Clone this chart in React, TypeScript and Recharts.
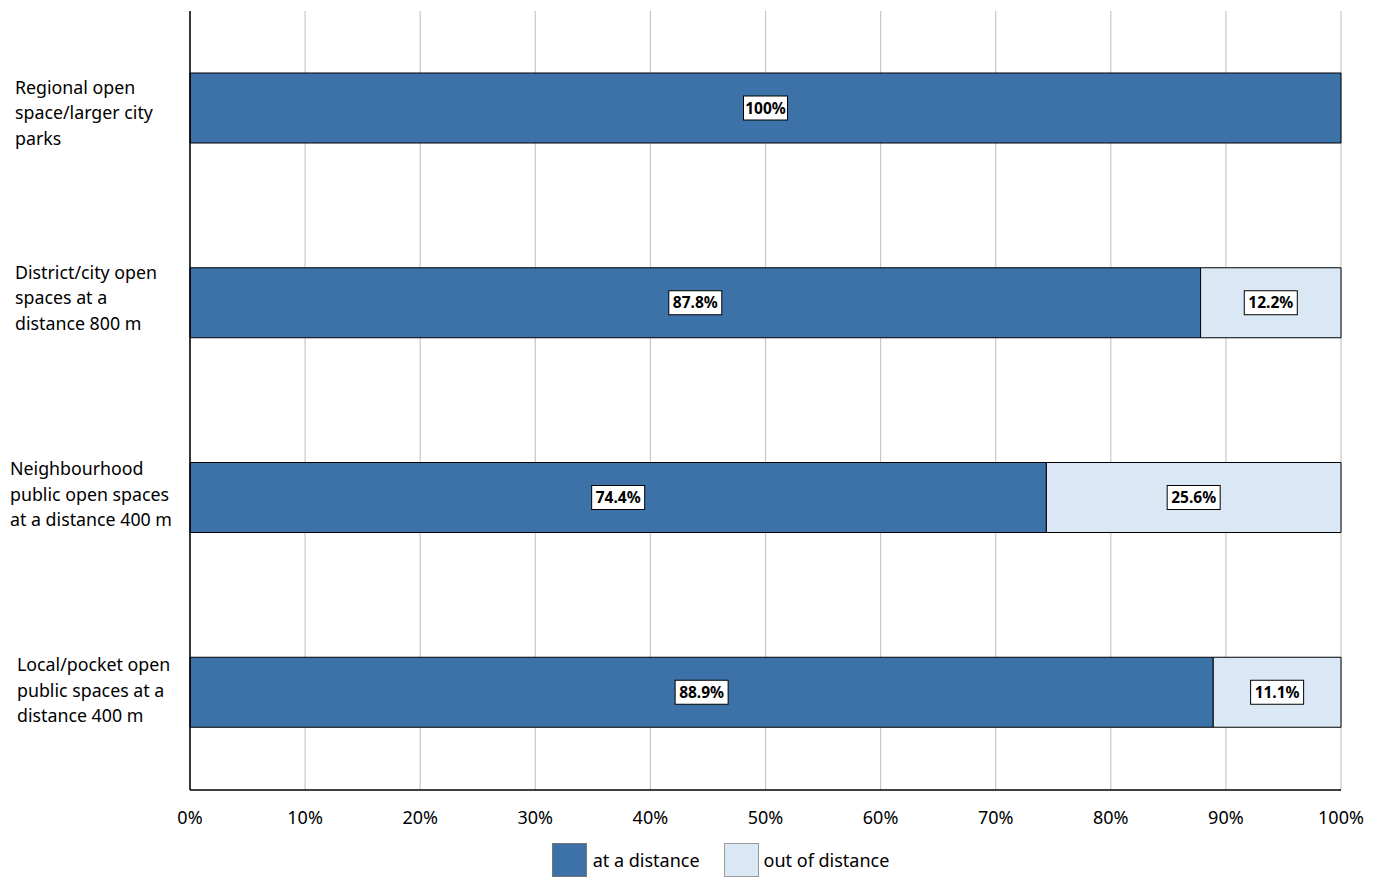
import React from 'react';
import { BarChart, Bar, XAxis, YAxis, CartesianGrid, LabelList, Legend } from 'recharts';

const categories = [
  'Regional open space/larger city parks',
  'District/city open spaces at a distance 800 m',
  'Neighbourhood public open spaces at a distance 400 m',
  'Local/pocket open public spaces at a distance 400 m',
];
const categoryLines = [
  ['Regional open', 'space/larger city', 'parks'],
  ['District/city open', 'spaces at a', 'distance 800 m'],
  ['Neighbourhood', 'public open spaces', 'at a distance 400 m'],
  ['Local/pocket open', 'public spaces at a', 'distance 400 m'],
];
const atDistance = [100, 87.8, 74.4, 88.9];
const outOfDistance = [0, 12.2, 25.6, 11.1];
const xTicks = [0, 10, 20, 30, 40, 50, 60, 70, 80, 90, 100];

const data = categories.map((name, i) => ({
  name,
  at: atDistance[i],
  out: outOfDistance[i],
}));

const BLUE = '#3C72A7';
const LIGHT = '#DAE8F6';
const FONT = '"Noto Sans", "Open Sans", sans-serif';
const labelXOffsets = [15, 15, 10, 17];
const labelYOffsets = [5, -5, -3, -2];

const YTick = (props: any) => {
  const { y, payload, index } = props;
  const lines = categoryLines[index] || [payload.value];
  const x0 = labelXOffsets[index] ?? 15;
  const y0 = y - 25.5 + (labelYOffsets[index] ?? 0);
  return (
    <text x={x0} y={y0} fontFamily={FONT} fontSize={17.8} fill="#000" textAnchor="start">
      {lines.map((l, i) => (
        <tspan key={i} x={x0} dy={i === 0 ? 6 : 25.5}>{l}</tspan>
      ))}
    </text>
  );
};

const XTick = (props: any) => {
  const { x, y, payload } = props;
  return (
    <text x={x} y={y + 26} fontFamily={FONT} fontSize={18} fill="#000" textAnchor="middle">
      {payload.value}%
    </text>
  );
};

const BoxLabel = (props: any) => {
  const { x, y, width, height, value } = props;
  if (value == null || value === 0) return null;
  const text = value === 100 ? '100%' : `${Number(value).toFixed(1)}%`;
  const cx = x + width / 2;
  const cy = y + height / 2;
  const w = text.length * 9 + 8;
  const h = 24;
  return (
    <g>
      <rect x={cx - w / 2} y={cy - h / 2} width={w} height={h} fill="#fff" stroke="#000" strokeWidth={1} />
      <text x={cx} y={cy + 5.5} textAnchor="middle" fontFamily={FONT} fontWeight="bold" fontSize={15.5} fill="#000">
        {text}
      </text>
    </g>
  );
};

const LegendContent = () => (
  <div style={{ height: 45, display: 'flex', justifyContent: 'center', alignItems: 'flex-start', fontFamily: FONT, fontSize: 18, paddingLeft: 100, boxSizing: 'border-box' }}>
    <span style={{ display: 'inline-block', width: 35, height: 34, background: BLUE, border: '1px solid #777', boxSizing: 'border-box', marginRight: 6, marginTop: 3 }} />
    <span style={{ marginRight: 24, lineHeight: '40px' }}>at a distance</span>
    <span style={{ display: 'inline-block', width: 35, height: 34, background: LIGHT, border: '1px solid #999', boxSizing: 'border-box', marginRight: 5, marginTop: 3 }} />
    <span style={{ lineHeight: '40px' }}>out of distance</span>
  </div>
);

export default function App() {
  return (
    <div style={{ position: 'absolute', left: 0, top: 0, background: '#fff' }}>
      <BarChart
        width={1377}
        height={885}
        data={data}
        layout="vertical"
        margin={{ top: 11, right: 36, left: 0, bottom: 0 }}
        barCategoryGap={0}
      >
        <CartesianGrid horizontal={false} vertical={true} stroke="#c8c8c8" strokeWidth={1.2} />
        <XAxis
          type="number"
          domain={[0, 100]}
          ticks={xTicks}
          tick={<XTick />}
          tickLine={false}
          axisLine={{ stroke: '#000', strokeWidth: 1.5 }}
          height={50}
          interval={0}
        />
        <YAxis
          type="category"
          dataKey="name"
          width={190}
          tick={<YTick />}
          tickLine={false}
          axisLine={{ stroke: '#000', strokeWidth: 1.5 }}
          interval={0}
        />
        <Legend verticalAlign="bottom" content={<LegendContent />} />
        <Bar dataKey="at" stackId="s" fill={BLUE} stroke="#000" strokeWidth={1} barSize={70} isAnimationActive={false}>
          <LabelList dataKey="at" content={<BoxLabel />} />
        </Bar>
        <Bar dataKey="out" stackId="s" fill={LIGHT} stroke="#000" strokeWidth={1} barSize={70} isAnimationActive={false}>
          <LabelList dataKey="out" content={<BoxLabel />} />
        </Bar>
      </BarChart>
    </div>
  );
}
